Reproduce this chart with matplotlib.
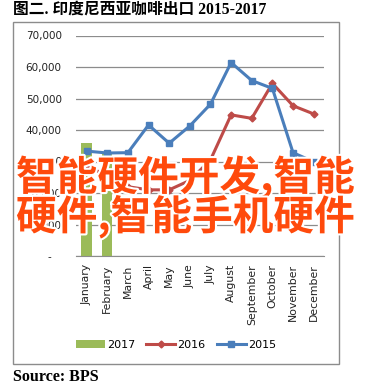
import numpy as np
import matplotlib.pyplot as plt
import matplotlib.patheffects as pe
from matplotlib.patches import Rectangle

months = ['January', 'February', 'March', 'April', 'May', 'June', 'July',
          'August', 'September', 'October', 'November', 'December']
exports_2017 = [35800, 32800]
exports_2016 = [28000, 26000, 22000, 21000, 21000, 24000, 30500,
                44800, 43700, 54800, 47700, 45100]
exports_2015 = [33300, 32700, 32800, 41600, 35800, 41300, 48200,
                61400, 55700, 53200, 32800, 29900]
yticks = [0, 10000, 20000, 30000, 40000, 50000, 60000, 70000]
ytick_labels = ['-   ', '10,000', '20,000', '30,000', '40,000', '50,000', '60,000', '70,000']

W, H = 389, 388
fig = plt.figure(figsize=(W / 100, H / 100), dpi=100)

# chart frame
fig.patches.append(Rectangle((12.7 / W, 1 - 364.3 / H), (338.7 - 12.7) / W, (364.3 - 21.7) / H,
                             transform=fig.transFigure, fill=False, edgecolor='#8c8c8c', lw=1.0))

ax = fig.add_axes([76.3 / W, 1 - 256 / H, (324 - 76.3) / W, (256 - 35.5) / H])
x = np.arange(len(months))

bar = ax.bar(x[:len(exports_2017)], exports_2017, width=0.5, color='#9bbb59', label='2017', zorder=2)
l16, = ax.plot(x, exports_2016, color='#be4b48', lw=2.2, marker='D', ms=3.5, label='2016', zorder=3)
l15, = ax.plot(x, exports_2015, color='#4a7ebb', lw=2.2, marker='s', ms=5, label='2015', zorder=4)

ax.set_xlim(-0.5, 11.5)
ax.set_ylim(0, 70000)
ax.set_yticks(yticks)
ax.set_yticklabels(ytick_labels, fontsize=7.5, color='#222222')
ax.set_xticks(x)
ax.set_xticklabels(months, rotation=90, fontsize=7.8, color='#222222')
ax.tick_params(axis='y', length=0, pad=10.5)
ax.tick_params(axis='x', length=0, pad=6)
ax.yaxis.grid(True, color='#8c8c8c', lw=0.9)
ax.set_axisbelow(True)
for s in ['top', 'right', 'left']:
    ax.spines[s].set_visible(False)
ax.spines['bottom'].set_color('#8c8c8c')

fig.legend(handles=[bar, l16, l15], labels=['2017', '2016', '2015'], loc='center',
           bbox_to_anchor=(176 / W, 1 - 345 / H), ncol=3, frameon=False, fontsize=8,
           handlelength=2.6, handletextpad=0.2, columnspacing=1.0)

fig.text(12.7 / W, 1 - 10 / H, '图二. 印度尼西亚咖啡出口 2015-2017', fontsize=11.3,
         fontweight='bold', family=['Liberation Serif', 'Noto Sans CJK SC'], va='center', ha='left')
fig.text(12.7 / W, 1 - 377 / H, 'Source: BPS', fontsize=11.5, fontweight='bold',
         family='Liberation Serif', va='center', ha='left')

stroke = [pe.withStroke(linewidth=3, foreground='white')]
for txt, yc in [('智能硬件开发,智能', 177.5), ('硬件,智能手机硬件', 217)]:
    fig.text(16 / W, 1 - yc / H, txt, fontsize=29.3, fontweight='bold', color='#ff4a0c',
             family=['Noto Sans CJK SC'], va='center', ha='left', path_effects=stroke)

fig.savefig('out.png', dpi=100)
